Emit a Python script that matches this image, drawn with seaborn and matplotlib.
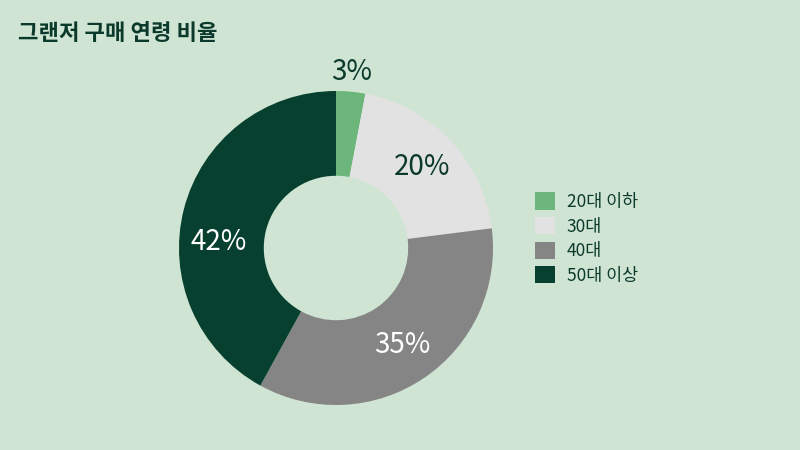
import numpy as np
import matplotlib.pyplot as plt
import seaborn as sns

# data
labels = ["20대 이하", "30대", "40대", "50대 이상"]
values = [3, 20, 35, 42]
colors = ["#6cb57b", "#e2e2e2", "#858585", "#07402f"]
text_colors = ["#0b3a2c", "#0b3a2c", "white", "white"]

bg = "#cfe4d3"
dark = "#0b3a2c"

sns.set_theme(style="white")
plt.rcParams['font.family'] = ['Noto Sans CJK KR', 'DejaVu Sans']

fig = plt.figure(figsize=(8, 4.5), dpi=100, facecolor=bg)
ax = fig.add_axes([179 / 800, 45 / 450, 314 / 800, 314 / 450])
ax.set_facecolor(bg)

wedges, texts, autotexts = ax.pie(
    values, colors=colors, startangle=90, counterclock=False,
    radius=1.0, autopct="%d%%", pctdistance=0.75,
    wedgeprops=dict(width=0.54, edgecolor="none"),
)

for i, t in enumerate(autotexts):
    t.set_color(text_colors[i])
    t.set_fontsize(20)
    t.set_fontweight("light")
# small slice label goes outside
autotexts[0].set_position((0.1, 1.12))
# 42% label sits a bit lower in the reference
x, y = autotexts[3].get_position()
autotexts[3].set_position((x - 0.02, 0.04))

ax.set_xlim(-1, 1)
ax.set_ylim(-1, 1)
ax.set_aspect("equal")
ax.axis("off")

leg = ax.legend(wedges, labels, loc="center left", bbox_to_anchor=(1.085, 0.53),
                frameon=False, fontsize=12.5, handlelength=1.15, handleheight=1.15,
                handletextpad=0.65, labelspacing=0.35)
for t in leg.get_texts():
    t.set_color(dark)

fig.text(18 / 800, 1 - 33 / 450, "그랜저 구매 연령 비율", fontsize=16,
         fontweight="bold", color=dark, va="center", ha="left")

fig.savefig("out.png", dpi=100, facecolor=bg)
